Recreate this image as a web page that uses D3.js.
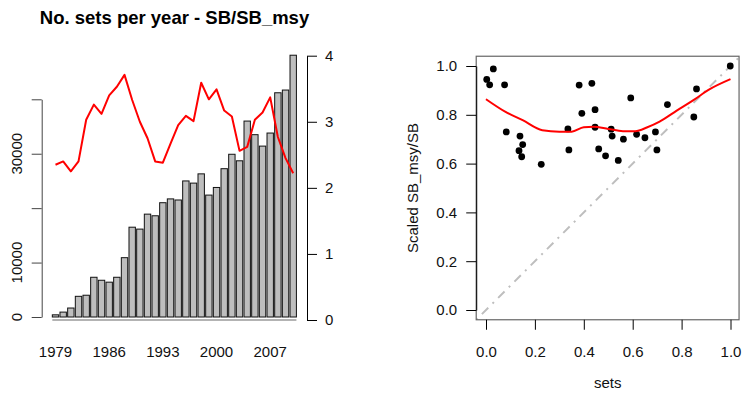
<!DOCTYPE html>
<html><head><meta charset="utf-8">
<script src="https://cdn.jsdelivr.net/npm/d3@7"></script>
<style>
body{margin:0;background:#fff;}
svg{display:block;font-family:"Liberation Sans",Arial,sans-serif;}
</style></head>
<body>
<svg id="c" width="742" height="398"></svg>
<script>
// ---- data ----
const years = d3.range(1979, 2011);
const sets = [400, 900, 1650, 3800, 4000, 7300, 6750, 6400, 7300, 10900,
  16500, 16150, 18900, 18600, 21000, 21700, 21500, 25000, 24600, 26300,
  22400, 23800, 27250, 29900, 28700, 36000, 33500, 31400, 33800, 41200,
  41700, 48100];
const sbRatio = [2.35, 2.40, 2.25, 2.40, 3.03, 3.26, 3.12, 3.40, 3.53, 3.71,
  3.33, 3.00, 2.75, 2.40, 2.38, 2.67, 2.95, 3.09, 3.01, 3.59,
  3.34, 3.49, 3.17, 3.08, 2.56, 2.62, 3.03, 3.14, 3.37, 2.77,
  2.45, 2.22];
const yearLabels = [1979, 1986, 1993, 2000, 2007];
const leftTicks = [0, 10000, 20000, 30000, 40000];
const leftTickLabels = ["0", "10000", "", "30000", ""];
const rightTicks = [0, 1, 2, 3, 4];

const scSets = [0.003, 0.030, 0.015, 0.076, 0.083, 0.139, 0.150, 0.135, 0.146, 0.226,
  0.335, 0.339, 0.381, 0.392, 0.433, 0.446, 0.446, 0.461, 0.489, 0.512,
  0.516, 0.541, 0.562, 0.592, 0.616, 0.650, 0.693, 0.699, 0.742, 0.850,
  0.861, 0.999];
const scSB = [0.945, 0.988, 0.923, 0.923, 0.730, 0.713, 0.678, 0.653, 0.628, 0.597,
  0.742, 0.656, 0.922, 0.806, 0.929, 0.821, 0.749, 0.660, 0.632, 0.741,
  0.713, 0.613, 0.700, 0.869, 0.720, 0.706, 0.730, 0.656, 0.842, 0.791,
  0.906, 1.000];
const smoothX = [0.00, 0.08, 0.15, 0.23, 0.30, 0.35, 0.40, 0.44, 0.50, 0.56, 0.61, 0.66, 0.71, 0.78, 0.85, 0.91, 1.00];
const smoothY = [0.864, 0.812, 0.778, 0.737, 0.731, 0.731, 0.749, 0.751, 0.742, 0.733, 0.733, 0.749, 0.772, 0.817, 0.861, 0.902, 0.946];
const rTicks = [0, 0.2, 0.4, 0.6, 0.8, 1.0];

// ---- setup ----
const svg = d3.select("#c");
const FS = 15;

// ---------- LEFT PANEL ----------
const n = years.length;
const xU = d3.scaleLinear().domain([-1.336, 0.2 + 1.2 * n + 1.536]).range([42.5, 307.5]);
const yL = d3.scaleLinear().domain([0, 40000]).range([317, 99.3]);
const yR = d3.scaleLinear().domain([0, 4]).range([320, 55.7]);
const barLeft = i => 0.2 + 1.2 * i;
const barMid = i => 0.7 + 1.2 * i;

svg.append("text").attr("x", 174.5).attr("y", 24).attr("text-anchor", "middle")
  .attr("font-weight", "bold").attr("font-size", 18.5).text("No. sets per year - SB/SB_msy");

// grey baseline under bars
svg.append("line").attr("x1", xU(barLeft(0))).attr("x2", xU(barLeft(n - 1) + 1))
  .attr("y1", yR(0)).attr("y2", yR(0)).attr("stroke", "#9a9a9a").attr("stroke-width", 1.5);

svg.append("g").selectAll("rect").data(sets).join("rect")
  .attr("x", (d, i) => xU(barLeft(i)))
  .attr("width", xU(1) - xU(0))
  .attr("y", d => yL(d))
  .attr("height", d => yL(0) - yL(d))
  .attr("fill", "#bebebe").attr("stroke", "#111").attr("stroke-width", 1);

// red line
svg.append("path").datum(sbRatio)
  .attr("d", d3.line().x((d, i) => xU(barMid(i))).y(d => yR(d)))
  .attr("fill", "none").attr("stroke", "#ff0000").attr("stroke-width", 2).attr("stroke-linejoin", "round");

// left axis
const gL = svg.append("g").attr("transform", "translate(41.7,0)");
gL.call(d3.axisLeft(yL).tickValues(leftTicks).tickFormat("").tickSize(10).tickSizeOuter(0));
gL.selectAll("path,line").attr("stroke", "#444");
gL.selectAll(".tick text").remove();
svg.append("g").selectAll("text").data(leftTicks).join("text")
  .attr("transform", d => `translate(22,${yL(d)}) rotate(-90)`)
  .attr("text-anchor", "middle").attr("font-size", FS).attr("fill", "#111")
  .text((d, i) => leftTickLabels[i]);

// right axis
const gR = svg.append("g").attr("transform", "translate(307,0)");
gR.call(d3.axisRight(yR).tickValues(rightTicks).tickFormat(d3.format("d")).tickSize(10).tickPadding(8).tickSizeOuter(0));
gR.selectAll("path,line").attr("stroke", "#000");
gR.selectAll("text").attr("font-size", FS).attr("fill", "#111").attr("font-family", null);

// year labels
svg.append("g").selectAll("text").data(yearLabels).join("text")
  .attr("x", d => xU(barMid(years.indexOf(d)))).attr("y", 356.7)
  .attr("text-anchor", "middle").attr("font-size", FS).attr("fill", "#111").text(d => d);

// ---------- RIGHT PANEL ----------
const xS = d3.scaleLinear().domain([0, 1]).range([486, 730.5]);
const yS = d3.scaleLinear().domain([0, 1]).range([310, 66]);
const bx0 = xS(-0.04), bx1 = xS(1.035), by0 = yS(-0.04), by1 = yS(1.04);

const clip = svg.append("clipPath").attr("id", "rc").append("rect")
  .attr("x", bx0).attr("y", by1).attr("width", bx1 - bx0).attr("height", by0 - by1);

// 1:1 line
svg.append("line").attr("clip-path", "url(#rc)")
  .attr("x1", xS(-0.04)).attr("y1", yS(-0.04)).attr("x2", xS(1.04)).attr("y2", yS(1.04))
  .attr("stroke", "#bebebe").attr("stroke-width", 2).attr("stroke-dasharray", "2,6,9,6");

// points
svg.append("g").selectAll("circle").data(scSets).join("circle")
  .attr("cx", d => xS(d)).attr("cy", (d, i) => yS(scSB[i])).attr("r", 3.4).attr("fill", "#000");

// smoother
svg.append("path").datum(smoothX)
  .attr("d", d3.line().x(d => xS(d)).y((d, i) => yS(smoothY[i])).curve(d3.curveMonotoneX))
  .attr("fill", "none").attr("stroke", "#ff0000").attr("stroke-width", 2);

// box
svg.append("rect").attr("x", bx0).attr("y", by1).attr("width", bx1 - bx0).attr("height", by0 - by1)
  .attr("fill", "none").attr("stroke", "#666").attr("stroke-width", 1.2);

// axes
const gy = svg.append("g").attr("transform", `translate(${bx0},0)`);
gy.call(d3.axisLeft(yS).tickValues(rTicks).tickFormat(d3.format(".1f")).tickSize(10).tickPadding(9).tickSizeOuter(0));
gy.selectAll("path,line").attr("stroke", "#000");
gy.selectAll("text").attr("font-size", FS).attr("fill", "#111").attr("font-family", null);

const gx = svg.append("g").attr("transform", `translate(0,${by0})`);
gx.call(d3.axisBottom(xS).tickValues(rTicks).tickFormat(d3.format(".1f")).tickSize(10).tickPadding(0).tickSizeOuter(0));
gx.select("path").remove();
gx.selectAll("line").attr("stroke", "#000");
gx.selectAll("text").attr("font-size", FS).attr("fill", "#111").attr("font-family", null)
  .attr("y", null).attr("dy", null).attr("transform", null)
  .each(function () { d3.select(this).attr("y", 356.7 - by0); });

svg.append("text").attr("x", (bx0 + bx1) / 2).attr("y", 388).attr("text-anchor", "middle")
  .attr("font-size", FS).attr("fill", "#111").text("sets");
svg.append("text").attr("transform", `translate(418,${(by0 + by1) / 2}) rotate(-90)`)
  .attr("text-anchor", "middle").attr("font-size", FS).attr("fill", "#111").text("Scaled SB_msy/SB");
</script>
</body></html>
